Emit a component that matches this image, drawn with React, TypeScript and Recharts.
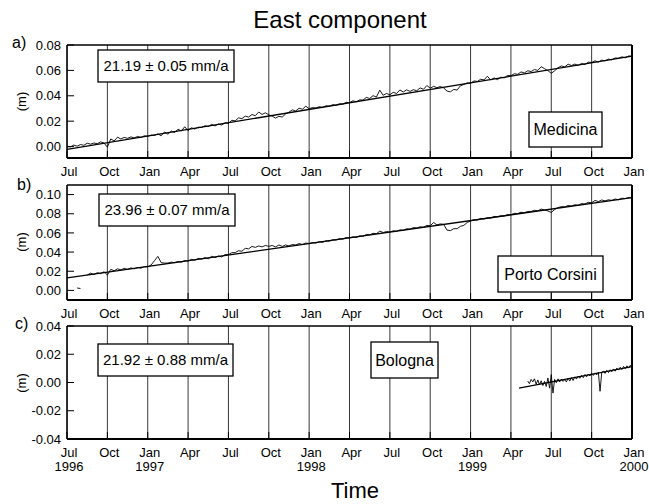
import React from 'react';
import { CartesianGrid, Line, LineChart, XAxis, YAxis } from 'recharts';

const FONT = 'Arial, "Liberation Sans", Helvetica, sans-serif';

// time axis: months counted from Jul 1996
const MONTH_TICKS = Array.from({ length: 43 }, (_, i) => i);
const QUARTER_TICKS = [0, 3, 6, 9, 12, 15, 18, 21, 24, 27, 30, 33, 36, 39, 42];
const QUARTER_LABELS = ['Jul', 'Oct', 'Jan', 'Apr', 'Jul', 'Oct', 'Jan', 'Apr', 'Jul', 'Oct', 'Jan', 'Apr', 'Jul', 'Oct', 'Jan'];
const YEAR_LABELS = ['1996', '', '1997', '', '', '', '1998', '', '', '', '1999', '', '', '', '2000'];

// a) Medicina, one sample every quarter month from Jul 1996
const medicinaStart = 0;
const medicinaStep = 0.25;
const medicinaEast = [
  0.0, -0.0003, 0.0012, 0.0003, 0.0016, 0.001, 0.0026, 0.0019, 0.0028, 0.0022,
  0.0037, 0.0028, -0.0005, 0.006, 0.0044, 0.0074, 0.006, 0.0072, 0.0065, 0.0076,
  0.0068, 0.008, 0.0071, 0.0085, 0.0081, 0.009, 0.0087, 0.01, 0.0085, 0.0115,
  0.0097, 0.0122, 0.011, 0.0137, 0.0122, 0.0156, 0.0125, 0.0148, 0.0138, 0.0153,
  0.015, 0.0164, 0.0157, 0.0175, 0.0162, 0.0178, 0.0169, 0.0188, 0.0182, 0.0207,
  0.0202, 0.0226, 0.022, 0.024, 0.0232, 0.0253, 0.0243, 0.0272, 0.0253, 0.0266,
  0.025, 0.024, 0.0224, 0.0238, 0.0233, 0.0257, 0.0271, 0.0289, 0.028, 0.0302,
  0.0294, 0.0318, 0.0298, 0.0307, 0.0303, 0.0314, 0.0307, 0.0321, 0.0317, 0.033,
  0.0324, 0.0337, 0.0333, 0.0349, 0.0345, 0.0361, 0.0352, 0.0368, 0.0366, 0.0387,
  0.0379, 0.0401, 0.039, 0.0444, 0.0404, 0.0418, 0.0408, 0.0427, 0.0418, 0.0446,
  0.043, 0.0447, 0.0434, 0.0448, 0.044, 0.0462, 0.0451, 0.0481, 0.046, 0.0474,
  0.0464, 0.0473, 0.0462, 0.0437, 0.0431, 0.045, 0.0445, 0.0479, 0.0489, 0.0501,
  0.0499, 0.0517, 0.0513, 0.053, 0.0525, 0.0554, 0.0524, 0.0541, 0.0527, 0.0547,
  0.0541, 0.056, 0.0558, 0.0574, 0.0569, 0.0588, 0.058, 0.0597, 0.0591, 0.0607,
  0.06, 0.0629, 0.0614, 0.0598, 0.0577, 0.0597, 0.0621, 0.0635, 0.0627, 0.0649,
  0.0638, 0.065, 0.0639, 0.0655, 0.0646, 0.0665, 0.0662, 0.0676, 0.0665, 0.0681,
  0.0675, 0.0689, 0.0683, 0.0698, 0.0696, 0.0707, 0.0699, 0.0714, 0.071,
];
const medicinaTrendT = [0, 42];
const medicinaTrend = [-0.0022, 0.0712];

// b) Porto Corsini, starts Aug 1996 (one lone early sample)
const portoStart = 0.75;
const portoStep = 0.25;
const portoEast: (number | null)[] = [
  0.0025, 0.002, null,
  0.016, 0.018, 0.0165, 0.0185, 0.0175, 0.0195, 0.016, 0.022, 0.0205, 0.0225,
  0.0215, 0.023, 0.022, 0.0235, 0.0225, 0.024, 0.0232, 0.0248, 0.0245, 0.0265,
  0.031, 0.0355, 0.029, 0.0285, 0.0285, 0.0295, 0.0289, 0.0302, 0.0294, 0.0312,
  0.0306, 0.0324, 0.0314, 0.0334, 0.0326, 0.0342, 0.0329, 0.0356, 0.0341, 0.0359,
  0.0349, 0.0374, 0.0374, 0.0394, 0.0394, 0.0414, 0.0409, 0.0439, 0.0434, 0.0459,
  0.0449, 0.0464, 0.0454, 0.0469, 0.0459, 0.0469, 0.0454, 0.0474, 0.0459, 0.0474,
  0.0464, 0.0479, 0.0474, 0.0489, 0.0479, 0.0494, 0.0489, 0.0499, 0.0494, 0.0509,
  0.0501, 0.0517, 0.0514, 0.0529, 0.0526, 0.054, 0.0535, 0.0552, 0.0547, 0.0559,
  0.0551, 0.0569, 0.0564, 0.0584, 0.0579, 0.0596, 0.0592, 0.0619, 0.0604, 0.0614,
  0.0609, 0.0622, 0.0616, 0.0632, 0.0627, 0.0644, 0.0639, 0.0656, 0.0651, 0.0664,
  0.0659, 0.0679, 0.0674, 0.0709, 0.0684, 0.0694, 0.0689, 0.0629, 0.0624, 0.0644,
  0.0644, 0.0669, 0.0679, 0.0709, 0.0724, 0.0739, 0.0734, 0.0752, 0.0746, 0.0759,
  0.0754, 0.0772, 0.0769, 0.0779, 0.0776, 0.0792, 0.0789, 0.0804, 0.0802, 0.0816,
  0.0811, 0.0824, 0.0824, 0.0836, 0.0831, 0.0849, 0.0839, 0.0829, 0.0814, 0.0844,
  0.0864, 0.0874, 0.0872, 0.0886, 0.0881, 0.0894, 0.0889, 0.0906, 0.0902, 0.0919,
  0.0914, 0.0939, 0.0927, 0.0944, 0.0934, 0.0946, 0.0939, 0.0954, 0.0946, 0.0962,
  0.0959, 0.0969, 0.0965,
];
const portoTrendT = [0, 42];
const portoTrend = [0.013, 0.0968];

// c) Bologna, from mid May 1999
const bolognaStart = 34.25;
const bolognaStep = 0.125;
const bolognaEast = [
  0.001, -0.0008, 0.0022, 0.0004, 0.0026, -0.0012, 0.0018, -0.0015, 0.0012, -0.0022,
  0.0008, -0.0028, 0.0032, -0.004, 0.0056, -0.0075, 0.0022, -0.0002, 0.0026, 0.0004,
  0.0024, 0.0008, 0.002, 0.0004, 0.003, 0.001, 0.0035, 0.0014, 0.004, 0.0024,
  0.0046, 0.003, 0.005, 0.0034, 0.0056, 0.004, 0.006, 0.0046, 0.0064, 0.005,
  0.0068, 0.0054, 0.0072, -0.0062, 0.007, 0.0082, 0.0064, 0.0086, 0.007, 0.009,
  0.0076, 0.0096, 0.008, 0.0102, 0.0088, 0.0108, 0.0092, 0.0114, 0.0098, 0.0118,
  0.0102, 0.0122, 0.011,
];
const bolognaTrendT = [33.6, 42];
const bolognaTrend = [-0.004, 0.0113];

type Point = { t: number; v: number | null };

const toPoints = (start: number, step: number, values: (number | null)[]): Point[] =>
  values.map((v, i) => ({ t: start + i * step, v }));

const toTrend = (times: number[], values: number[]): Point[] => times.map((t, i) => ({ t, v: values[i] }));

const MonthTick = (props: any) => {
  const { x, y, payload, showYears } = props;
  const idx = QUARTER_TICKS.indexOf(payload.value);
  const year = showYears ? YEAR_LABELS[idx] : '';
  return (
    <text x={x + 2} y={y} textAnchor="middle" fontSize={13} fill="#000">
      <tspan x={x + 2} dy="0.71em">{QUARTER_LABELS[idx]}</tspan>
      {year && <tspan x={x + 2} dy="1.05em">{year}</tspan>}
    </text>
  );
};

interface PanelProps {
  top: number;
  plotHeight: number;
  bottomSpace: number;
  yDomain: [number, number];
  yMajor: number[];
  yMinor: number[];
  series: Point[];
  trend: Point[];
  showYears?: boolean;
}

const tickStroke = { stroke: '#000', strokeWidth: 1 };
// axes must have a positive size to be drawn; keep it negligible
const THIN = 0.01;
const TOP_PAD = 12;

const Panel: React.FC<PanelProps> = ({ top, plotHeight, bottomSpace, yDomain, yMajor, yMinor, series, trend, showYears = false }) => {
  const height = TOP_PAD + plotHeight + bottomSpace;
  return (
    <div style={{ position: 'absolute', left: 0, top: top - TOP_PAD }}>
      <LineChart width={649} height={height} margin={{ top: TOP_PAD, right: 17, bottom: bottomSpace, left: 67 }}>
        <XAxis
          xAxisId="top"
          orientation="top"
          type="number"
          dataKey="t"
          domain={[0, 42]}
          allowDataOverflow
          ticks={MONTH_TICKS}
          interval={0}
          height={THIN}
          tickSize={-4}
          tick={false}
          tickLine={tickStroke}
          axisLine={{ stroke: '#000', strokeWidth: 1.4 }}
        />
        <XAxis
          xAxisId="minor"
          type="number"
          dataKey="t"
          domain={[0, 42]}
          allowDataOverflow
          ticks={MONTH_TICKS}
          interval={0}
          height={THIN}
          tickSize={-4}
          tick={false}
          tickLine={tickStroke}
          axisLine={false}
        />
        <XAxis
          xAxisId="main"
          type="number"
          dataKey="t"
          domain={[0, 42]}
          allowDataOverflow
          ticks={QUARTER_TICKS}
          interval={0}
          height={THIN}
          tickSize={-7}
          tickMargin={16}
          tick={(p: any) => <MonthTick {...p} showYears={showYears} />}
          tickLine={tickStroke}
          axisLine={{ stroke: '#000', strokeWidth: 2 }}
        />
        <YAxis
          yAxisId="minor"
          type="number"
          domain={yDomain}
          allowDataOverflow
          ticks={yMinor}
          interval={0}
          width={THIN}
          tickSize={-4}
          tick={false}
          tickLine={tickStroke}
          axisLine={false}
        />
        <YAxis
          yAxisId="main"
          type="number"
          domain={yDomain}
          allowDataOverflow
          ticks={yMajor}
          interval={0}
          width={THIN}
          tickSize={-7}
          tickMargin={13}
          tick={{ fontSize: 13, fill: '#000' }}
          tickFormatter={(v: number) => v.toFixed(2)}
          tickLine={tickStroke}
          axisLine={{ stroke: '#000', strokeWidth: 1.4 }}
        />
        <YAxis
          yAxisId="right"
          orientation="right"
          type="number"
          domain={yDomain}
          allowDataOverflow
          ticks={yMajor}
          interval={0}
          width={THIN}
          tickSize={-6}
          tick={false}
          tickLine={tickStroke}
          axisLine={{ stroke: '#000', strokeWidth: 2 }}
        />
        <CartesianGrid xAxisId="main" yAxisId="main" horizontal={false} stroke="#222" strokeWidth={0.9} />
        <Line
          xAxisId="main"
          yAxisId="main"
          data={series}
          dataKey="v"
          type="linear"
          stroke="#000"
          strokeWidth={0.9}
          dot={false}
          activeDot={false}
          connectNulls={false}
          isAnimationActive={false}
        />
        <Line
          xAxisId="main"
          yAxisId="main"
          data={trend}
          dataKey="v"
          type="linear"
          stroke="#000"
          strokeWidth={1.3}
          dot={false}
          activeDot={false}
          isAnimationActive={false}
        />
      </LineChart>
    </div>
  );
};

const Box = ({ x, y, w, h, text, size }: { x: number; y: number; w: number; h: number; text: string; size: number }) => (
  <g>
    <rect x={x} y={y} width={w} height={h} fill="#fff" stroke="#000" strokeWidth={1.3} />
    <text x={x + w / 2} y={y + h / 2} dy="0.36em" textAnchor="middle" fontSize={size} fill="#000">
      {text}
    </text>
  </g>
);

export default function App() {
  return (
    <div
      style={{ position: 'absolute', left: 0, top: 0, width: 649, height: 504, background: '#fff', fontFamily: FONT, overflow: 'hidden' }}
    >
      <Panel
        top={45}
        plotHeight={113}
        bottomSpace={30}
        yDomain={[-0.009, 0.08]}
        yMajor={[0, 0.02, 0.04, 0.06, 0.08]}
        yMinor={[0.01, 0.03, 0.05, 0.07]}
        series={toPoints(medicinaStart, medicinaStep, medicinaEast)}
        trend={toTrend(medicinaTrendT, medicinaTrend)}
      />
      <Panel
        top={185}
        plotHeight={115}
        bottomSpace={30}
        yDomain={[-0.01, 0.11]}
        yMajor={[0, 0.02, 0.04, 0.06, 0.08, 0.1]}
        yMinor={[0.01, 0.03, 0.05, 0.07, 0.09]}
        series={toPoints(portoStart, portoStep, portoEast)}
        trend={toTrend(portoTrendT, portoTrend)}
      />
      <Panel
        top={326}
        plotHeight={113}
        bottomSpace={50}
        yDomain={[-0.04, 0.04]}
        yMajor={[-0.04, -0.02, 0, 0.02, 0.04]}
        yMinor={[-0.03, -0.01, 0.01, 0.03]}
        series={toPoints(bolognaStart, bolognaStep, bolognaEast)}
        trend={toTrend(bolognaTrendT, bolognaTrend)}
        showYears
      />
      <svg width={649} height={504} style={{ position: 'absolute', left: 0, top: 0 }} fontFamily={FONT}>
        <text x={340} y={28} textAnchor="middle" fontSize={24} fill="#000">East component</text>
        <text x={12} y={48} fontSize={16} fill="#000">a)</text>
        <text x={17} y={190} fontSize={16} fill="#000">b)</text>
        <text x={15} y={329} fontSize={16} fill="#000">c)</text>
        <text x={21} y={101.5} dy="0.36em" textAnchor="middle" fontSize={13} transform="rotate(-90 21 101.5)">(m)</text>
        <text x={21} y={242} dy="0.36em" textAnchor="middle" fontSize={13} transform="rotate(-90 21 242)">(m)</text>
        <text x={21} y={383} dy="0.36em" textAnchor="middle" fontSize={13} transform="rotate(-90 21 383)">(m)</text>
        <Box x={98} y={50} w={136} h={32} text="21.19 ± 0.05 mm/a" size={15} />
        <Box x={529} y={112} w={73} h={35} text="Medicina" size={16} />
        <Box x={99} y={194} w={136} h={32} text="23.96 ± 0.07 mm/a" size={15} />
        <Box x={498} y={256} w={105} h={36} text="Porto Corsini" size={16} />
        <Box x={98} y={344} w={135} h={32} text="21.92 ± 0.88 mm/a" size={15} />
        <Box x={371} y={342} w={67} h={36} text="Bologna" size={16} />
        <text x={355} y={498} textAnchor="middle" fontSize={22} fill="#000">Time</text>
      </svg>
    </div>
  );
}
